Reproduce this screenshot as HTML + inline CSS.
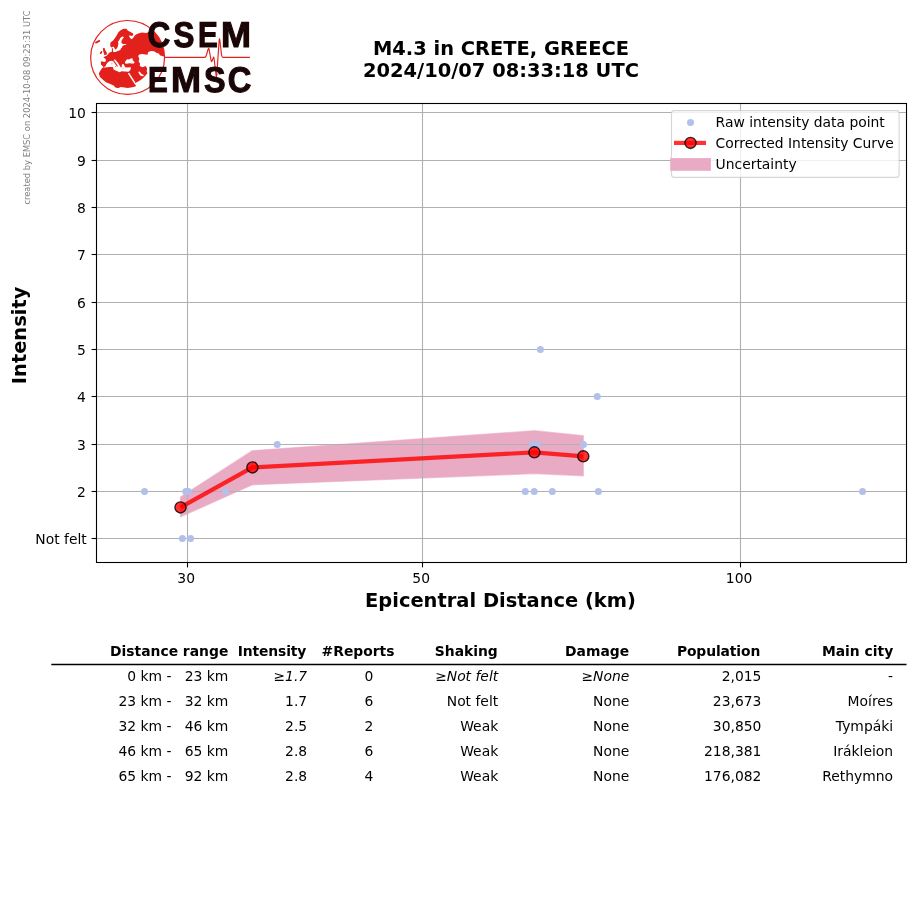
<!DOCTYPE html>
<html><head><meta charset="utf-8"><title>M4.3 in CRETE, GREECE</title>
<style>html,body{margin:0;padding:0;background:#fff}svg{display:block}</style></head>
<body>
<svg width="915" height="905" viewBox="0 0 915 905" font-family="DejaVu Sans, Liberation Sans, sans-serif" font-size="13.89px" fill="#000">
<rect width="915" height="905" fill="#fff"/>
<polygon points="180.5,497.0 252.4,450.7 534.4,430.8 583.3,435.8 583.3,475.8 534.4,473.6 252.4,484.7 180.5,516.8" fill="#e9aac4" stroke="#e9aac4" stroke-opacity="0.6" stroke-width="1.4" stroke-linejoin="round"/>
<line x1="96.5" x2="906.5" y1="538.5" y2="538.5" stroke="#b0b0b0" stroke-width="1.1"/>
<line x1="96.5" x2="906.5" y1="491.5" y2="491.5" stroke="#b0b0b0" stroke-width="1.1"/>
<line x1="96.5" x2="906.5" y1="444.5" y2="444.5" stroke="#b0b0b0" stroke-width="1.1"/>
<line x1="96.5" x2="906.5" y1="396.5" y2="396.5" stroke="#b0b0b0" stroke-width="1.1"/>
<line x1="96.5" x2="906.5" y1="349.5" y2="349.5" stroke="#b0b0b0" stroke-width="1.1"/>
<line x1="96.5" x2="906.5" y1="302.5" y2="302.5" stroke="#b0b0b0" stroke-width="1.1"/>
<line x1="96.5" x2="906.5" y1="254.5" y2="254.5" stroke="#b0b0b0" stroke-width="1.1"/>
<line x1="96.5" x2="906.5" y1="207.5" y2="207.5" stroke="#b0b0b0" stroke-width="1.1"/>
<line x1="96.5" x2="906.5" y1="160.5" y2="160.5" stroke="#b0b0b0" stroke-width="1.1"/>
<line x1="96.5" x2="906.5" y1="112.5" y2="112.5" stroke="#b0b0b0" stroke-width="1.1"/>
<line x1="187.5" x2="187.5" y1="103.5" y2="562.5" stroke="#b0b0b0" stroke-width="1.1"/>
<line x1="422.5" x2="422.5" y1="103.5" y2="562.5" stroke="#b0b0b0" stroke-width="1.1"/>
<line x1="740.5" x2="740.5" y1="103.5" y2="562.5" stroke="#b0b0b0" stroke-width="1.1"/>
<circle cx="144.5" cy="491.5" r="3.5" fill="#b2c0ea"/>
<circle cx="185.7" cy="491.5" r="3.5" fill="#b2c0ea"/>
<circle cx="188.3" cy="491.5" r="3.5" fill="#b2c0ea"/>
<circle cx="225.5" cy="491.5" r="3.5" fill="#b2c0ea"/>
<circle cx="277.3" cy="444.5" r="3.5" fill="#b2c0ea"/>
<circle cx="182.4" cy="538.5" r="3.5" fill="#b2c0ea"/>
<circle cx="190.6" cy="538.5" r="3.5" fill="#b2c0ea"/>
<circle cx="540.4" cy="349.5" r="3.5" fill="#b2c0ea"/>
<circle cx="597.3" cy="396.5" r="3.5" fill="#b2c0ea"/>
<circle cx="532.4" cy="444.5" r="3.5" fill="#b2c0ea"/>
<circle cx="537.4" cy="444.5" r="3.5" fill="#b2c0ea"/>
<circle cx="583.5" cy="444.5" r="3.5" fill="#b2c0ea"/>
<circle cx="525.3" cy="491.5" r="3.5" fill="#b2c0ea"/>
<circle cx="534.2" cy="491.5" r="3.5" fill="#b2c0ea"/>
<circle cx="552.3" cy="491.5" r="3.5" fill="#b2c0ea"/>
<circle cx="598.4" cy="491.5" r="3.5" fill="#b2c0ea"/>
<circle cx="862.5" cy="491.5" r="3.5" fill="#b2c0ea"/>
<polyline points="180.5,507.4 252.4,467.4 534.4,452.3 583.3,456.3" fill="none" stroke="#ff0000" stroke-opacity="0.8" stroke-width="4.17" stroke-linejoin="round" stroke-linecap="butt"/>
<circle cx="180.5" cy="507.4" r="5.55" fill="#ff0000" fill-opacity="0.8" stroke="#000" stroke-opacity="0.8" stroke-width="1.39"/>
<circle cx="252.4" cy="467.4" r="5.55" fill="#ff0000" fill-opacity="0.8" stroke="#000" stroke-opacity="0.8" stroke-width="1.39"/>
<circle cx="534.4" cy="452.3" r="5.55" fill="#ff0000" fill-opacity="0.8" stroke="#000" stroke-opacity="0.8" stroke-width="1.39"/>
<circle cx="583.3" cy="456.3" r="5.55" fill="#ff0000" fill-opacity="0.8" stroke="#000" stroke-opacity="0.8" stroke-width="1.39"/>
<rect x="96.5" y="103.5" width="810.0" height="459.0" fill="none" stroke="#000" stroke-width="1.1"/>
<line x1="187.5" x2="187.5" y1="562.5" y2="567.4" stroke="#000" stroke-width="1.1"/>
<text x="186.2" y="583" text-anchor="middle">30</text>
<line x1="422.5" x2="422.5" y1="562.5" y2="567.4" stroke="#000" stroke-width="1.1"/>
<text x="421.2" y="583" text-anchor="middle">50</text>
<line x1="740.5" x2="740.5" y1="562.5" y2="567.4" stroke="#000" stroke-width="1.1"/>
<text x="739.1" y="583" text-anchor="middle">100</text>
<line x1="91.6" x2="96.5" y1="538.5" y2="538.5" stroke="#000" stroke-width="1.1"/>
<text x="86.8" y="544" text-anchor="end">Not felt</text>
<line x1="91.6" x2="96.5" y1="491.5" y2="491.5" stroke="#000" stroke-width="1.1"/>
<text x="85.8" y="497" text-anchor="end">2</text>
<line x1="91.6" x2="96.5" y1="444.5" y2="444.5" stroke="#000" stroke-width="1.1"/>
<text x="85.8" y="450" text-anchor="end">3</text>
<line x1="91.6" x2="96.5" y1="396.5" y2="396.5" stroke="#000" stroke-width="1.1"/>
<text x="85.8" y="402" text-anchor="end">4</text>
<line x1="91.6" x2="96.5" y1="349.5" y2="349.5" stroke="#000" stroke-width="1.1"/>
<text x="85.8" y="355" text-anchor="end">5</text>
<line x1="91.6" x2="96.5" y1="302.5" y2="302.5" stroke="#000" stroke-width="1.1"/>
<text x="85.8" y="308" text-anchor="end">6</text>
<line x1="91.6" x2="96.5" y1="254.5" y2="254.5" stroke="#000" stroke-width="1.1"/>
<text x="85.8" y="260" text-anchor="end">7</text>
<line x1="91.6" x2="96.5" y1="207.5" y2="207.5" stroke="#000" stroke-width="1.1"/>
<text x="85.8" y="213" text-anchor="end">8</text>
<line x1="91.6" x2="96.5" y1="160.5" y2="160.5" stroke="#000" stroke-width="1.1"/>
<text x="85.8" y="166" text-anchor="end">9</text>
<line x1="91.6" x2="96.5" y1="112.5" y2="112.5" stroke="#000" stroke-width="1.1"/>
<text x="85.8" y="118" text-anchor="end">10</text>
<text x="500.5" y="607" text-anchor="middle" font-weight="bold" font-size="19.44px">Epicentral Distance (km)</text>
<text transform="translate(25.9,335.4) rotate(-90)" text-anchor="middle" font-weight="bold" font-size="19.44px">Intensity</text>
<text x="500.95" y="54.7" text-anchor="middle" font-weight="bold" font-size="19.44px">M4.3 in CRETE, GREECE</text>
<text x="500.95" y="76.6" text-anchor="middle" font-weight="bold" font-size="19.44px">2024/10/07 08:33:18 UTC</text>
<text transform="translate(30,204.6) rotate(-90)" font-size="8.33px" fill="#808080">created by EMSC on 2024-10-08 09:25:31 UTC</text>
<rect x="671.5" y="110.6" width="227.6" height="66.8" rx="2.8" ry="2.8" fill="#fff" fill-opacity="0.8" stroke="#cccccc" stroke-opacity="0.8" stroke-width="1.1"/>
<circle cx="690.5" cy="122.4" r="3.5" fill="#b2c0ea"/>
<line x1="674" x2="706" y1="142.9" y2="142.9" stroke="#ff0000" stroke-opacity="0.8" stroke-width="4.17"/>
<circle cx="690.5" cy="142.9" r="5.55" fill="#ff0000" fill-opacity="0.8" stroke="#000" stroke-opacity="0.8" stroke-width="1.39"/>
<rect x="670.2" y="158.1" width="40.7" height="12.7" fill="#e9aac4"/>
<text x="715.6" y="127">Raw intensity data point</text>
<text x="715.6" y="148">Corrected Intensity Curve</text>
<text x="715.6" y="169">Uncertainty</text>
<line x1="51.3" x2="906.5" y1="664.5" y2="664.5" stroke="#000" stroke-width="1.39"/>
<text x="228.3" y="656" text-anchor="end" font-weight="bold">Distance range</text>
<text x="306.3" y="656" text-anchor="end" font-weight="bold" textLength="68.5" lengthAdjust="spacing">Intensity</text>
<text x="321.6" y="656" text-anchor="start" font-weight="bold">#Reports</text>
<text x="497.8" y="656" text-anchor="end" font-weight="bold">Shaking</text>
<text x="629.1" y="656" text-anchor="end" font-weight="bold">Damage</text>
<text x="760.3" y="656" text-anchor="end" font-weight="bold" textLength="83.4" lengthAdjust="spacing">Population</text>
<text x="893.2" y="656" text-anchor="end" font-weight="bold">Main city</text>
<text x="228.3" y="681.0" text-anchor="end" xml:space="preserve">  0 km -   23 km</text>
<text x="307.2" y="681.0" text-anchor="end" xml:space="preserve" font-style="italic">≥1.7</text>
<text x="373.4" y="681.0" text-anchor="end" xml:space="preserve">0</text>
<text x="498.2" y="681.0" text-anchor="end" xml:space="preserve" font-style="italic">≥Not felt</text>
<text x="629.3" y="681.0" text-anchor="end" xml:space="preserve" font-style="italic">≥None</text>
<text x="761.4" y="681.0" text-anchor="end" xml:space="preserve">2,015</text>
<text x="893.1" y="681.0" text-anchor="end" xml:space="preserve">-</text>
<text x="228.3" y="706.0" text-anchor="end" xml:space="preserve"> 23 km -   32 km</text>
<text x="307.2" y="706.0" text-anchor="end" xml:space="preserve">1.7</text>
<text x="373.4" y="706.0" text-anchor="end" xml:space="preserve">6</text>
<text x="498.2" y="706.0" text-anchor="end" xml:space="preserve">Not felt</text>
<text x="629.3" y="706.0" text-anchor="end" xml:space="preserve">None</text>
<text x="761.4" y="706.0" text-anchor="end" xml:space="preserve">23,673</text>
<text x="893.1" y="706.0" text-anchor="end" xml:space="preserve">Moíres</text>
<text x="228.3" y="731.0" text-anchor="end" xml:space="preserve"> 32 km -   46 km</text>
<text x="307.2" y="731.0" text-anchor="end" xml:space="preserve">2.5</text>
<text x="373.4" y="731.0" text-anchor="end" xml:space="preserve">2</text>
<text x="498.2" y="731.0" text-anchor="end" xml:space="preserve">Weak</text>
<text x="629.3" y="731.0" text-anchor="end" xml:space="preserve">None</text>
<text x="761.4" y="731.0" text-anchor="end" xml:space="preserve">30,850</text>
<text x="893.1" y="731.0" text-anchor="end" xml:space="preserve">Tympáki</text>
<text x="228.3" y="756.0" text-anchor="end" xml:space="preserve"> 46 km -   65 km</text>
<text x="307.2" y="756.0" text-anchor="end" xml:space="preserve">2.8</text>
<text x="373.4" y="756.0" text-anchor="end" xml:space="preserve">6</text>
<text x="498.2" y="756.0" text-anchor="end" xml:space="preserve">Weak</text>
<text x="629.3" y="756.0" text-anchor="end" xml:space="preserve">None</text>
<text x="761.4" y="756.0" text-anchor="end" xml:space="preserve">218,381</text>
<text x="893.1" y="756.0" text-anchor="end" xml:space="preserve">Irákleion</text>
<text x="228.3" y="781.0" text-anchor="end" xml:space="preserve"> 65 km -   92 km</text>
<text x="307.2" y="781.0" text-anchor="end" xml:space="preserve">2.8</text>
<text x="373.4" y="781.0" text-anchor="end" xml:space="preserve">4</text>
<text x="498.2" y="781.0" text-anchor="end" xml:space="preserve">Weak</text>
<text x="629.3" y="781.0" text-anchor="end" xml:space="preserve">None</text>
<text x="761.4" y="781.0" text-anchor="end" xml:space="preserve">176,082</text>
<text x="893.1" y="781.0" text-anchor="end" xml:space="preserve">Rethymno</text>
<clipPath id="gc"><circle cx="127.6" cy="57.45" r="36.95"/></clipPath>
<g clip-path="url(#gc)">
<polygon fill="#e2211c"  points="123.4,28.8 126.4,28.8 128.0,30.7 131.0,32.3 133.1,33.6 133.3,35.1 131.8,35.9 129.8,35.6 128.8,35.7 129.9,37.6 131.1,39.2 132.6,38.5 133.8,36.9 135.0,35.2 136.5,34.2 138.3,33.4 140,32.9 142,32.6 146.3,33.0 153,30.3 170,26 170,56.7 164.5,56.7 162.5,56 160.2,55.5 158.7,53.6 156.4,52.8 154,51.3 151,50.9 148.2,52 147.5,54.8 145.5,54.4 142.4,54 139.3,54.4 138.2,55.9 139.3,59 138.6,61.3 140.1,63.7 139.7,66 142.4,67.2 145.5,66 147.1,68.3 146.7,71.4 147.5,73.3 146.3,74.5 145,76.3 142,79 138.7,81.2 135.4,82.9 134.6,82.6 134.1,83.4 136,85.6 135.4,86.4 132.2,87.2 127.8,88.1 124.5,87.5 120.7,87.0 118.5,88.1 115.8,87.8 113.6,85.6 110.3,84.0 105.9,82.3 102.7,79.6 99.9,76.9 98.8,73.6 99.9,71.4 102.1,68.1 103.4,67.6 103.0,65.9 102.1,65.7 101.0,64.6 100.8,62.3 101.2,61.2 104.4,61.9 105.5,61.5 106.1,60.0 105.1,58.5 103.3,57.5 104.8,56.5 107.0,55.5 108.1,54.0 109.6,52.5 111.5,51.8 111.9,51.4 111.8,48.3 112.5,48.0 112.9,48.7 113.0,51.4 113.6,51.9 115.3,51.9 117.8,51.1 120.4,49.9 120.8,48.4 121.9,47.6 122.3,46.4 123.2,45.4 126.5,44.6 126.0,44.0 123.0,44.0 121.5,42.9 121.4,41.1 122.4,39.2 123.9,37.2 123.0,36.4 121.4,36.9 120.3,38.0 119.2,40.3 118.0,41.8 118.4,43.4 118.0,45.7 117.2,48.0 115.3,49.7 114.6,48.3 113.6,46.6 111.7,47.4 110.4,46.4 110.2,43.7 110.7,42.2 113.4,40.3 115.3,37.6 116.9,34.9 118.4,32.3 120.3,30.4"/>
<polygon fill="#fff"  points="103.6,67.4 105.7,66.1 106.3,64.2 107.7,62.5 109.4,61.3 111.5,60.7 113.2,61.3 114.0,59.6 115.1,59.6 116.4,61.1 118.0,62.7 118.9,64.2 119.9,66.1 120.8,67.2 121.4,67.6 122.0,66.5 121.6,64.9 122.2,64.4 123.0,64.0 123.9,64.6 124.5,66.1 125.2,67.2 127.5,67.6 130.2,67.2 131.0,67.6 130.6,69.5 129.5,71.1 128.3,71.8 124.9,71.4 121.4,71.3 119.9,72.2 118.4,71.8 116.8,71.1 114.9,70.3 113.4,69.2 113.2,67.6 112.6,67.1 109.6,67.1 106.9,67.2 105.0,67.6"/>
<polyline fill="none" stroke="#e2211c" stroke-width="1.3" stroke-opacity="0.9" stroke-linecap="round" points="113.6,60.7 114.7,62.5 116.1,64.4 117.2,66.0"/>
<line x1="111.9" y1="62.8" x2="111.9" y2="64.6" stroke="#e2211c" stroke-width="0.8" stroke-opacity="0.5"/>
<circle cx="115.6" cy="66.6" r="0.7" fill="#e2211c" fill-opacity="0.6"/>
<line x1="122.4" y1="68.4" x2="123.8" y2="68.5" stroke="#e2211c" stroke-width="0.7" stroke-opacity="0.4"/>
<polygon fill="#fff"  points="124.9,62.3 126.0,60.4 127.2,59.2 128.7,59.6 130.2,58.8 132.1,58.3 132.9,58.8 132.5,60.0 133.7,61.1 134.6,62.5 134.0,63.6 131.8,63.4 129.1,63.2 126.8,63.8 125.2,63.4"/>
<polygon fill="#fff"  points="138.2,72.0 140.2,75.4 142.5,76.2 144.4,75.2 141.6,73.9 139.6,71.4"/>
<line x1="128.5" y1="73.2" x2="134.8" y2="82.9" stroke="#fff" stroke-width="1.5"/>
<polygon fill="#e2211c"  points="102.9,48.2 104.6,48.0 105.1,49.9 106.5,52.1 107.0,53.6 106.5,54.8 104.8,55.0 103.8,54.6 103.9,52.9 103.3,51.6 103.0,49.9"/>
<polygon fill="#e2211c"  points="100.1,52.5 101.2,51.0 102.3,51.2 102.1,52.9 100.8,54.0 99.9,53.8"/>
<line x1="96.0" y1="42.6" x2="99.3" y2="40.9" stroke="#e2211c" stroke-width="1.8" stroke-linecap="round"/>
</g>
<circle cx="127.6" cy="57.45" r="36.95" fill="none" stroke="#e2211c" stroke-width="1.2"/>
<path fill="none" stroke="#e2211c" stroke-width="1.15" stroke-linejoin="round" d="M164.6,57.4 L204.5,57.4 Q205.8,57.4 206.3,55.5 L208.2,49 Q208.6,47.4 209,49 L211.1,60.4 Q211.5,62.4 212,61 L213.4,57.6 Q213.8,56.6 214,58 L216.1,75.5 Q216.4,77.8 216.7,75.5 L219.2,40 Q219.5,37.2 219.8,40 L221.6,55.2 Q221.9,57.4 223,57.4 L249.9,57.4"/>
<text transform="translate(147.49,47) scale(0.882,1)" stroke-width="1.1" font-family="Liberation Sans, DejaVu Sans, sans-serif" font-weight="bold" font-size="35.75px" fill="#1a0606" stroke="#1a0606" stroke-linejoin="miter" text-rendering="geometricPrecision">C</text>
<text transform="translate(173.61,47) scale(0.876,1)" stroke-width="1.1" font-family="Liberation Sans, DejaVu Sans, sans-serif" font-weight="bold" font-size="35.75px" fill="#1a0606" stroke="#1a0606" stroke-linejoin="miter" text-rendering="geometricPrecision">S</text>
<text transform="translate(197.88,47) scale(0.829,1)" stroke-width="1.1" font-family="Liberation Sans, DejaVu Sans, sans-serif" font-weight="bold" font-size="35.75px" fill="#1a0606" stroke="#1a0606" stroke-linejoin="miter" text-rendering="geometricPrecision">E</text>
<text transform="translate(221.03,47) scale(1.007,1)" stroke-width="1.1" font-family="Liberation Sans, DejaVu Sans, sans-serif" font-weight="bold" font-size="35.75px" fill="#1a0606" stroke="#1a0606" stroke-linejoin="miter" text-rendering="geometricPrecision">M</text>
<text transform="translate(147.88,92) scale(0.829,1)" stroke-width="1.1" font-family="Liberation Sans, DejaVu Sans, sans-serif" font-weight="bold" font-size="35.75px" fill="#1a0606" stroke="#1a0606" stroke-linejoin="miter" text-rendering="geometricPrecision">E</text>
<text transform="translate(171.03,92) scale(1.007,1)" stroke-width="1.1" font-family="Liberation Sans, DejaVu Sans, sans-serif" font-weight="bold" font-size="35.75px" fill="#1a0606" stroke="#1a0606" stroke-linejoin="miter" text-rendering="geometricPrecision">M</text>
<text transform="translate(203.88,92) scale(0.904,1)" stroke-width="1.1" font-family="Liberation Sans, DejaVu Sans, sans-serif" font-weight="bold" font-size="35.75px" fill="#1a0606" stroke="#1a0606" stroke-linejoin="miter" text-rendering="geometricPrecision">S</text>
<text transform="translate(227.85,92) scale(0.912,1)" stroke-width="1.1" font-family="Liberation Sans, DejaVu Sans, sans-serif" font-weight="bold" font-size="35.75px" fill="#1a0606" stroke="#1a0606" stroke-linejoin="miter" text-rendering="geometricPrecision">C</text>
</svg>
</body></html>
